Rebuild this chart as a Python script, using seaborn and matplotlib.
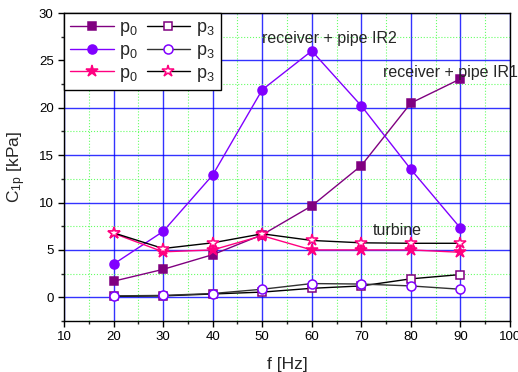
import matplotlib
matplotlib.use("Agg")
import matplotlib.pyplot as plt
import seaborn as sns
import pandas as pd
from matplotlib.ticker import MultipleLocator

sns.set_style("ticks")
plt.rcParams['font.family'] = ['Liberation Sans', 'DejaVu Sans']
plt.rcParams['mathtext.default'] = 'regular'

freq = [20, 30, 40, 50, 60, 70, 80, 90]
ir1_p0 = [1.7, 2.95, 4.5, 6.6, 9.65, 13.9, 20.5, 23.05]
ir2_p0 = [3.5, 6.95, 12.9, 21.9, 26.0, 20.2, 13.5, 7.3]
turb_p0 = [6.75, 4.8, 5.0, 6.5, 5.0, 5.0, 5.0, 4.75]
ir1_p3 = [0.1, 0.15, 0.35, 0.55, 0.95, 1.2, 1.95, 2.4]
ir2_p3 = [0.15, 0.2, 0.4, 0.85, 1.45, 1.4, 1.2, 0.85]
turb_p3 = [6.8, 5.15, 5.75, 6.7, 6.0, 5.75, 5.7, 5.7]

labels = ["p$_0$", "p$_0$", "p$_0$", "p$_3$", "p$_3$", "p$_3$"]

series = [
    (ir1_p0, dict(color="#800080", marker="s", mfc="#800080", mec="#800080", ms=6)),
    (ir2_p0, dict(color="#8000FF", marker="o", mfc="#8000FF", mec="#8000FF", ms=6.5)),
    (turb_p0, dict(color="#FF0080", marker="*", mfc="#FF0080", mec="#FF0080", ms=9)),
    (ir1_p3, dict(color="#000000", marker="s", mfc="white", mec="#800080", ms=6)),
    (ir2_p3, dict(color="#333333", marker="o", mfc="white", mec="#8000FF", ms=6.5)),
    (turb_p3, dict(color="#000000", marker="*", mfc="white", mec="#FF0080", ms=9)),
]

fig = plt.figure(figsize=(5.18, 3.72), dpi=100)
ax = fig.add_axes([64/518, 1 - 321/372, (510-64)/518, (321-13)/372])

for (vals, st), lab in zip(series, labels):
    df = pd.DataFrame({"f": freq, "v": vals})
    sns.lineplot(data=df, x="f", y="v", ax=ax, color=st["color"], lw=1.0,
                 marker=st["marker"], markersize=st["ms"],
                 markerfacecolor=st["mfc"], markeredgecolor=st["mec"],
                 markeredgewidth=1.1, label=lab, zorder=3)

ax.set_xlim(10, 100)
ax.set_ylim(-2.5, 30)
ax.xaxis.set_major_locator(MultipleLocator(10))
ax.xaxis.set_minor_locator(MultipleLocator(5))
ax.yaxis.set_major_locator(MultipleLocator(5))
ax.yaxis.set_minor_locator(MultipleLocator(2.5))
ax.grid(which="major", color="#0000FF", lw=1.0, alpha=0.8, zorder=0)
ax.grid(which="minor", color="#66FF66", lw=0.8, ls=":", zorder=0)
ax.set_axisbelow(True)
ax.tick_params(which="major", direction="out", length=4, width=1, labelsize=9.5, colors="black")
ax.tick_params(which="minor", direction="out", length=2.5, width=1)
for s in ax.spines.values():
    s.set_color("black")
    s.set_linewidth(1.0)

ax.set_xlabel("f [Hz]", fontsize=12.5, labelpad=10)
ax.set_ylabel("C$_{1p}$ [kPa]", fontsize=12.5, labelpad=8)

ax.text(49.9, 27.35, "receiver + pipe IR2", fontsize=11.5, va="center", ha="left")
ax.text(74.3, 23.75, "receiver + pipe IR1", fontsize=11.5, va="center", ha="left", clip_on=False)
ax.text(72.3, 7.0, "turbine", fontsize=11.5, va="center", ha="left")

leg = ax.legend(ncol=2, loc="upper left", fontsize=13, frameon=True, fancybox=False,
                borderaxespad=0.0, handlelength=2.4, columnspacing=0.5,
                handletextpad=0.3, labelspacing=0.2, borderpad=0.35, numpoints=1)
leg.get_frame().set_edgecolor("black")
leg.get_frame().set_linewidth(1.0)
leg.get_frame().set_alpha(1)

fig.savefig("out.png", dpi=100)
